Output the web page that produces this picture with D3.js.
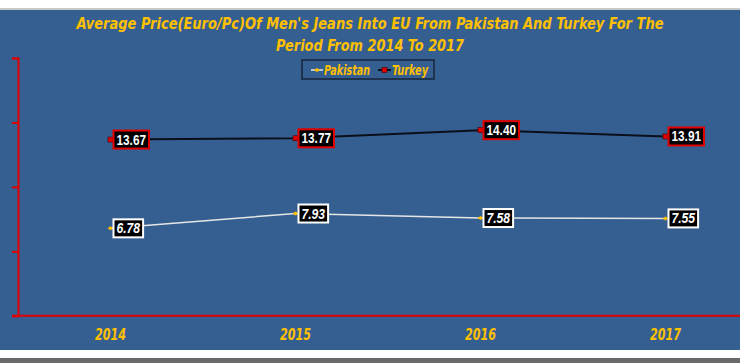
<!DOCTYPE html>
<html>
<head>
<meta charset="utf-8">
<script src="https://cdn.jsdelivr.net/npm/d3@7"></script>
<style>
    body { margin: 0; background: #fff; }
    svg { display: block; }
    .title { font-family: "DejaVu Sans Condensed", "Liberation Sans Narrow", sans-serif; font-weight: bold; font-style: italic; fill: #ffc000; }
    .lbl { font-family: "Liberation Sans", Arial, sans-serif; font-weight: bold; fill: #fff; }
</style>
</head>
<body>
<div id="chart"></div>
<script>
const years = ["2014", "2015", "2016", "2017"];
const pakistan = [6.78, 7.93, 7.58, 7.55];
const turkey = [13.67, 13.77, 14.40, 13.91];
const yTicks = [0, 5, 10, 15, 20];
const titleLines = ["Average Price(Euro/Pc)Of Men's Jeans Into EU From Pakistan And Turkey For The",
                    "Period From 2014 To 2017"];
const titleWidths = [587, 188];

var width = 740, height = 363;

var svg = d3.select("#chart").append("svg")
    .attr("width", width)
    .attr("height", height);

// page frame around the cropped chart
svg.append("rect").attr("x", 0).attr("y", 8).attr("width", width).attr("height", 2).attr("fill", "#c8c8c8");
svg.append("rect").attr("x", 0).attr("y", 10).attr("width", width).attr("height", 340).attr("fill", "#365f91");
svg.append("rect").attr("x", 0).attr("y", 358).attr("width", width).attr("height", 5).attr("fill", "#6a6a6a");

var x = d3.scaleBand().domain(years).range([18, 758]);
var y = d3.scaleLinear().domain([0, 20]).range([315.7, 58]);

// title
svg.selectAll(".ttl").data(titleLines).enter().append("text")
    .attr("class", "title")
    .attr("x", 370)
    .attr("y", (d, i) => 29 + i * 22)
    .attr("text-anchor", "middle")
    .attr("textLength", (d, i) => titleWidths[i])
    .attr("lengthAdjust", "spacingAndGlyphs")
    .style("font-size", "16px")
    .text(d => d);

// y axis (no labels, ticks outward)
var yAxis = svg.append("g")
    .attr("transform", "translate(18,0)")
    .call(d3.axisLeft(y).tickValues(yTicks).tickSize(6).tickFormat(""));
yAxis.selectAll("line, path").attr("stroke", "#e00000").attr("stroke-width", 2);

// x axis
var xAxis = svg.append("g")
    .attr("transform", "translate(0," + y(0) + ")")
    .call(d3.axisBottom(x).tickSize(0).tickPadding(13));
xAxis.select(".domain").attr("stroke", "#e00000").attr("stroke-width", 2).attr("d", "M12,0H758");
xAxis.selectAll("text")
    .attr("class", "title")
    .attr("textLength", 31)
    .attr("lengthAdjust", "spacingAndGlyphs")
    .style("font-size", "16px");

var cx = d => x(d) + x.bandwidth() / 2;

var line = d3.line()
    .x((d, i) => cx(years[i]))
    .y(d => y(d));

svg.append("path").datum(turkey)
    .attr("d", line).attr("fill", "none").attr("stroke", "#0a0f1a").attr("stroke-width", 2);
svg.append("path").datum(pakistan)
    .attr("d", line).attr("fill", "none").attr("stroke", "#e6e6e6").attr("stroke-width", 1.5);

// markers
svg.selectAll(".mk-tr").data(turkey).enter().append("rect")
    .attr("x", (d, i) => cx(years[i]) - 2.5)
    .attr("y", d => y(d) - 2.5)
    .attr("width", 5).attr("height", 5)
    .attr("fill", "#e00000").attr("stroke", "#400000").attr("stroke-width", 0.6);
svg.selectAll(".mk-pk").data(pakistan).enter().append("path")
    .attr("transform", (d, i) => "translate(" + cx(years[i]) + "," + y(d) + ")")
    .attr("d", "M-3,0L0,-2L3,0L0,2Z")
    .attr("fill", "#ffc000");

// data labels: black boxes to the right of each point
function addLabels(data, border, italic)
{
    var g = svg.append("g");
    data.forEach((v, i) => {
        var s = v.toFixed(2);
        var w = s.length * 5.9;
        var px = cx(years[i]);
        g.append("rect")
            .attr("x", px + 3)
            .attr("y", y(v) - 9)
            .attr("width", w + 6)
            .attr("height", 18)
            .attr("fill", "#000")
            .attr("stroke", border)
            .attr("stroke-width", 2);
        g.append("text")
            .attr("class", "lbl")
            .attr("x", px + 6)
            .attr("y", y(v) + 5)
            .attr("textLength", w)
            .attr("lengthAdjust", "spacingAndGlyphs")
            .style("font-size", "14px")
            .style("font-style", italic ? "italic" : "normal")
            .text(s);
    });
}
addLabels(turkey, "#e00000", false);
addLabels(pakistan, "#ffffff", true);

// legend
var leg = svg.append("g").attr("transform", "translate(302,60)");
leg.append("rect").attr("width", 132).attr("height", 19)
    .attr("fill", "#365f91").attr("stroke", "#16243a").attr("stroke-width", 1.5);
leg.append("line").attr("x1", 9).attr("x2", 21).attr("y1", 10).attr("y2", 10)
    .attr("stroke", "#e6e6e6").attr("stroke-width", 1.5);
leg.append("path").attr("transform", "translate(15,10)").attr("d", "M-3,0L0,-2L3,0L0,2Z").attr("fill", "#ffc000");
leg.append("text").attr("class", "title").attr("x", 22).attr("y", 15)
    .attr("textLength", 46).attr("lengthAdjust", "spacingAndGlyphs")
    .style("font-size", "14px").text("Pakistan");
leg.append("line").attr("x1", 76).attr("x2", 89).attr("y1", 10).attr("y2", 10)
    .attr("stroke", "#0a0f1a").attr("stroke-width", 2);
leg.append("rect").attr("x", 80).attr("y", 7.5).attr("width", 5).attr("height", 5)
    .attr("fill", "#e00000").attr("stroke", "#400000").attr("stroke-width", 0.6);
leg.append("text").attr("class", "title").attr("x", 90).attr("y", 15)
    .attr("textLength", 36).attr("lengthAdjust", "spacingAndGlyphs")
    .style("font-size", "14px").text("Turkey");
</script>
</body>
</html>
